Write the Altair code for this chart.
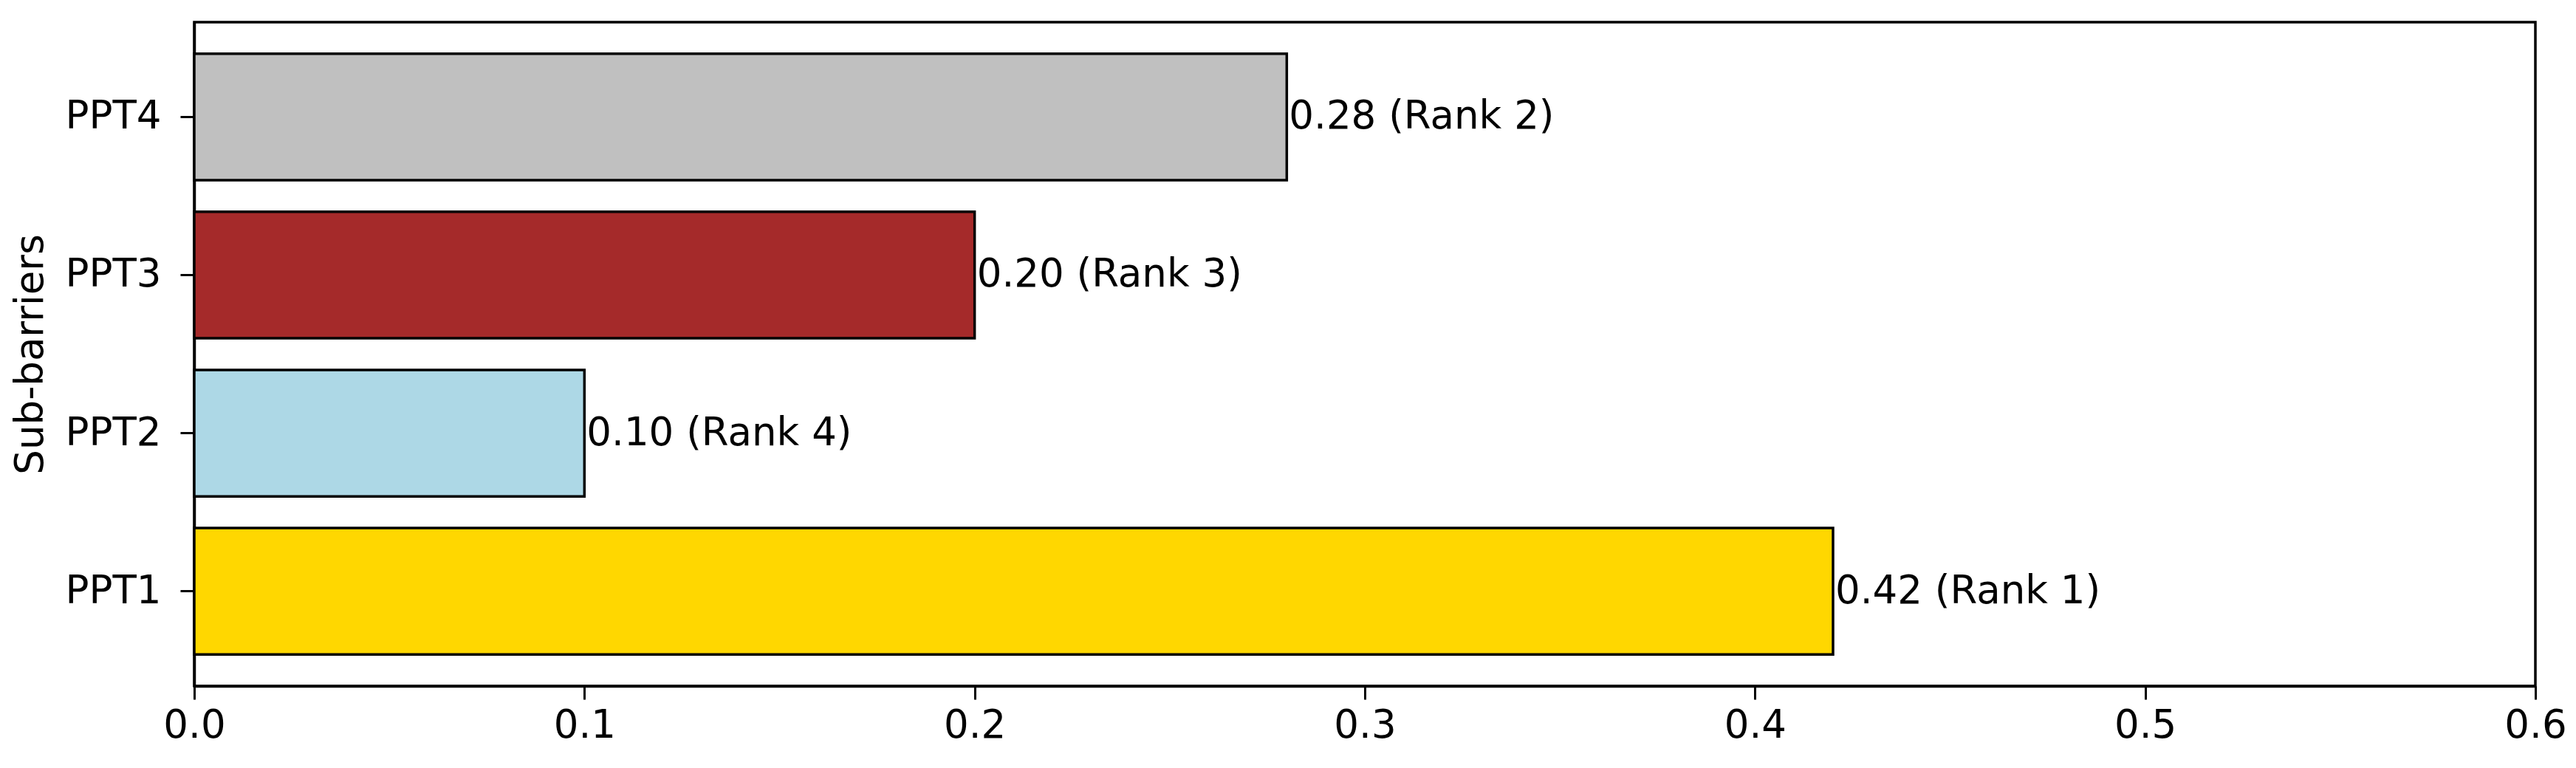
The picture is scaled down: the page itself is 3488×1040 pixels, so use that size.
import altair as alt
import pandas as pd

categories = ["PPT1", "PPT2", "PPT3", "PPT4"]
values = [0.42, 0.10, 0.20, 0.28]
ranks = [1, 4, 3, 2]
colors = ["#FFD700", "#ADD8E6", "#A52A2A", "#C0C0C0"]
x_ticks = [0.0, 0.1, 0.2, 0.3, 0.4, 0.5, 0.6]

df = pd.DataFrame({
    "cat": categories,
    "val": values,
    "label": [f"{v:.2f} (Rank {r})" for v, r in zip(values, ranks)],
})

FONT = "DejaVu Sans"
FS = 53

y_enc = alt.Y("cat:N", sort=categories[::-1],
              scale=alt.Scale(paddingInner=0.2, paddingOuter=0.2),
              axis=alt.Axis(title="Sub-barriers", titlePadding=19, labelPadding=26,
                            tickSize=19))
x_enc = alt.X("val:Q", scale=alt.Scale(domain=[0, 0.6], nice=False, zero=True),
              axis=alt.Axis(title=None, values=x_ticks, format=".1f",
                            labelPadding=9, tickSize=18, labelFlush=False,
                            grid=False))

bars = alt.Chart(df).mark_bar(stroke="black", strokeWidth=3.5).encode(
    x=x_enc,
    y=y_enc,
    color=alt.Color("cat:N", scale=alt.Scale(domain=categories, range=colors), legend=None),
)

text = alt.Chart(df).mark_text(align="left", baseline="middle", dx=3,
                               font=FONT, fontSize=FS, color="black").encode(
    x=alt.X("val:Q"),
    y=alt.Y("cat:N", sort=categories[::-1]),
    text="label:N",
)

chart = alt.layer(bars, text).properties(
    width=3170, height=899,
    autosize=alt.AutoSizeParams(type="none"),
    padding={"left": 255, "top": 22, "right": 44, "bottom": 100},
).configure(
    background="white",
).configure_view(
    stroke="black", strokeWidth=3.5,
).configure_axis(
    labelFont=FONT, labelFontSize=FS, labelColor="black",
    titleFont=FONT, titleFontSize=FS, titleFontWeight="normal", titleColor="black",
    tickColor="black", tickWidth=3, domainColor="black", domainWidth=3.5,
    grid=False,
)

chart.save("out.html", embed_options={"renderer": "svg", "actions": False})
